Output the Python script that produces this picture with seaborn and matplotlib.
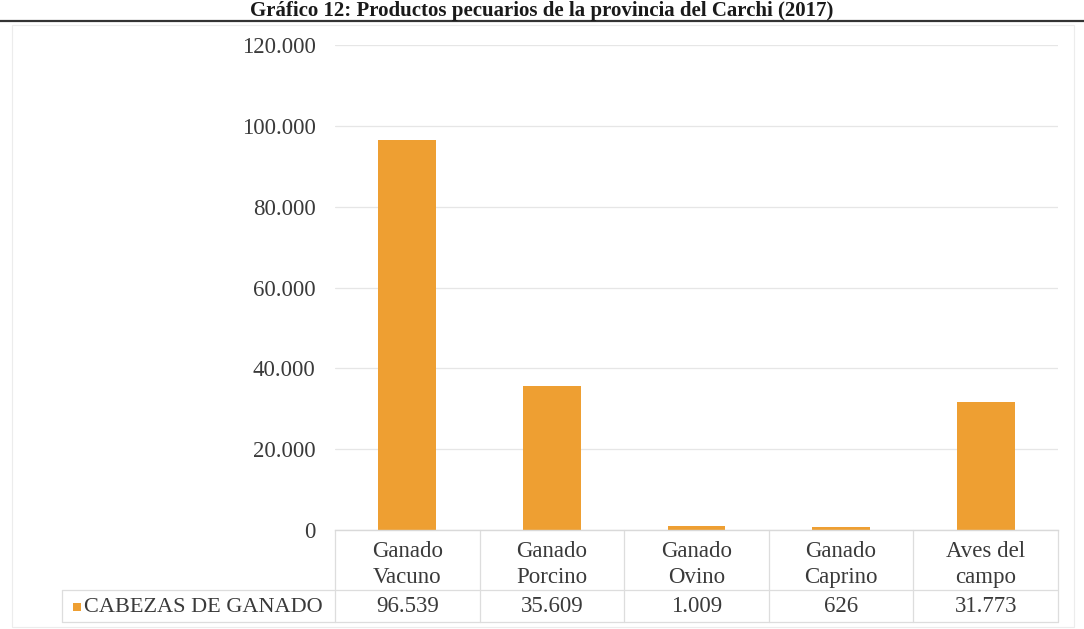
import matplotlib
matplotlib.use("Agg")
import matplotlib.pyplot as plt
import matplotlib.transforms as mtransforms
from matplotlib.lines import Line2D
from matplotlib.patches import Rectangle
import seaborn as sns
import pandas as pd

# ---- data ----
categories = ["Ganado Vacuno", "Ganado Porcino", "Ganado Ovino", "Ganado Caprino", "Aves del campo"]
tick_labels = ["Ganado\nVacuno", "Ganado\nPorcino", "Ganado\nOvino", "Ganado\nCaprino", "Aves del\ncampo"]
values = [96539, 35609, 1009, 626, 31773]
series_name = "CABEZAS DE GANADO"
title = "Gráfico 12: Productos pecuarios de la provincia del Carchi (2017)"
yticks = [0, 20000, 40000, 60000, 80000, 100000, 120000]

bar_color = "#EE9F32"
text_color = "#3a3a3a"

sns.set_theme(style="white")
plt.rcParams["font.family"] = ["Liberation Serif", "DejaVu Serif"]

def fmt(v):
    return f"{v:,}".replace(",", ".")

df = pd.DataFrame({"cat": categories, "val": values})

fig = plt.figure(figsize=(10.84, 6.29), dpi=100)
fig.patch.set_facecolor("white")
ax = fig.add_axes([335 / 1084, 1 - 530 / 629, (1058 - 335) / 1084, (530 - 45) / 629])

sns.barplot(data=df, x="cat", y="val", color=bar_color, width=0.4, ax=ax,
            saturation=1, edgecolor="none")

ax.set_ylim(0, 120000)
ax.set_xlim(-0.5, len(categories) - 0.5)
ax.set_yticks(yticks)
ax.set_yticklabels([fmt(t) for t in yticks], fontsize=16.5, color=text_color)
ax.set_xticks(range(len(categories)))
ax.set_xticklabels(tick_labels, fontsize=16.5, color=text_color, linespacing=1.3)
ax.tick_params(axis="y", length=0, pad=14)
ax.tick_params(axis="x", length=0, pad=8)
ax.set_xlabel("")
ax.set_ylabel("")
ax.yaxis.grid(True, color="#e6e6e6", linewidth=0.9)
ax.set_axisbelow(True)
for s in ["top", "right", "left"]:
    ax.spines[s].set_visible(False)
ax.spines["bottom"].set_color("#d9d9d9")
ax.spines["bottom"].set_linewidth(1.0)

# ---- data table below the axis ----
blend = mtransforms.blended_transform_factory(ax.transData, fig.transFigure)
y_top = 1 - 530 / 629
y_mid = 1 - 590 / 629
y_bot = 1 - 622 / 629
y_val = 1 - 607 / 629
line_kw = dict(color="#dddddd", linewidth=0.9, clip_on=False)
for i in range(len(categories) + 1):
    ax.plot([i - 0.5, i - 0.5], [y_top, y_bot], transform=blend, **line_kw)
for i, v in enumerate(values):
    ax.text(i, y_val, fmt(v), transform=blend, ha="center", va="center",
            fontsize=16.5, color=text_color)

fig.add_artist(Line2D([62 / 1084, 1058 / 1084], [y_mid, y_mid], transform=fig.transFigure, **line_kw))
fig.add_artist(Line2D([62 / 1084, 1058 / 1084], [y_bot, y_bot], transform=fig.transFigure, **line_kw))
fig.add_artist(Line2D([62 / 1084, 62 / 1084], [y_mid, y_bot], transform=fig.transFigure, **line_kw))

# legend key + series name
fig.add_artist(Rectangle((73 / 1084, y_val - 4 / 629), 8 / 1084, 8 / 629,
                         transform=fig.transFigure, facecolor=bar_color, edgecolor="none"))
fig.text(84 / 1084, y_val, series_name, ha="left", va="center", fontsize=16, color=text_color)

# ---- title and rule ----
fig.text(0.5, 1 - 16 / 629, title, ha="center", va="baseline", fontsize=15,
         fontweight="bold", color="#1a1a1a")
fig.add_artist(Line2D([0, 1], [1 - 21 / 629, 1 - 21 / 629], transform=fig.transFigure,
                      color="#333333", linewidth=1.6))
# faint chart-area border
fig.add_artist(Rectangle((12 / 1084, 1 - 627 / 629), 1062 / 1084, 602 / 629,
                         transform=fig.transFigure, facecolor="none", edgecolor="#ececec",
                         linewidth=0.8))

fig.savefig("out.png", dpi=100)
